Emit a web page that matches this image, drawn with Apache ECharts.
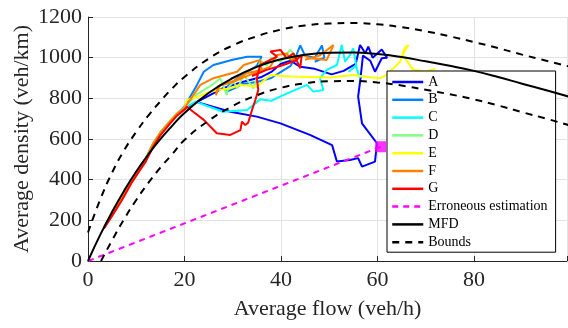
<!DOCTYPE html>
<html>
<head>
<meta charset="utf-8">
<script src="https://cdn.jsdelivr.net/npm/echarts@6.0.0/dist/echarts.min.js"></script>
<style>
  html, body { margin: 0; padding: 0; background: #fff; }
  #chart { width: 568px; height: 328px; }
</style>
</head>
<body>
<div id="chart"></div>
<script>
// trajectories: [flow, density]
var pathA = [[3.3,161],[5,228],[7,305],[9,390],[10.5,445],[12,500],[13.5,572],[15,628],[17,684],[18.5,722],[20.2,752],
  [24,800],[28,850],[32,880],[36,905],[38,930],[40,970],[42,985],[44,955],[47,945],[50.5,918],[53,935],[55.5,970],
  [56.4,1062],[57.5,1022],[58.1,1054],[59,1000],[60.9,1040],[62,1000],[60.9,997],[59.5,931],[58.5,985],[57,1010],
  [56.5,900],[56,808],[56.8,677],[59.9,579],[59.5,489],[56.8,464],[56,506],[54.3,497],[51.6,489],[50.6,570],
  [46,620],[39.9,677],[35,710],[29.5,734],[22.3,784]]
var pathB = [[3.3,165],[5,232],[7,310],[9,395],[10.5,450],[12,505],[13.5,578],[15,632],[17,688],[18.5,726],[20,760],
  [22.6,866],[24,931],[26,964],[30,990],[33,1005],[36,1005],[35,960],[33,930],[31,900],[29,860],[28.8,833],
  [30,845],[32,870],[35,880],[38,900],[40,930],[42,960],[43,1000],[44,1060],[45,1010],[47,1000],[48.5,1060],
  [49,1000],[47,980]]
var pathC = [[3.3,163],[5,230],[7,308],[9,392],[10.5,447],[12,502],[13.5,575],[15,630],[17,686],[18.5,724],[20,752],
  [22.3,784],[25,760],[28,734],[33,743],[35.7,795],[38,788],[40.5,816],[42.6,838],[45.4,866],[46.7,833],
  [48.8,841],[48.1,899],[49.5,940],[51.6,964],[52.6,1062],[53.3,980],[54.3,1013],[55,1046],[55.7,948],
  [56.4,899],[55.5,960],[54,930]]
var pathD = [[3.3,166],[5,234],[7,312],[9,396],[10.5,452],[12,507],[13.5,580],[15,634],[17,690],[18.5,728],[20,756],
  [22.6,820],[24,840],[26,870],[27.4,899],[28.8,816],[29,850],[30.2,882],[31,850],[32.3,915],[34.3,849],
  [35,900],[35.7,989],[37,960],[38,1000],[40,980],[41.9,1038],[43,1010]]
var pathE = [[3.3,162],[5,229],[7,306],[9,391],[10.5,446],[12,501],[13.5,574],[15,629],[17,685],[18.5,723],[20,750],
  [20.5,792],[23,810],[25,830],[27,841],[29.5,849],[31.6,866],[35,857],[37.8,915],[41.9,907],[46,905],
  [50.2,902],[55,915],[58,905],[60.6,899],[61.9,915],[64.7,980],[65.6,1045],[66.4,1062],[65.2,1015],
  [67.4,940],[70,932],[72,945]]
var pathF = [[3.3,164],[5,231],[7,309],[9,394],[10.5,449],[12,504],[13.5,577],[15,631],[17,687],[18.5,725],[20,752],
  [23.3,866],[26,899],[30.9,931],[32.3,964],[35.7,989],[36,940],[33,925],[30.2,885],[27.4,866],[26.5,815],
  [27,860],[30,880],[34.3,923],[37.8,956],[39.2,1013],[41.2,1021],[42,990],[44.7,1013],[46,997],[49.5,989],
  [50.9,1062],[48,1010],[45,990]]
var pathG = [[3.3,160],[5,222],[7,298],[9,382],[10.5,437],[12,490],[13.5,562],[15,618],[17,676],[18.5,716],[20.2,748],
  [20.5,759],[22,730],[24,694],[26.7,628],[29.5,620],[31.6,644],[31.9,685],[32.6,669],[33.2,680],[34,743],
  [34.7,792],[35.3,841],[35,899],[35.7,964],[37.8,989],[39.2,1005],[37.8,1030],[39.9,1038],[41.2,997],
  [42.6,1021],[44,948],[44.3,1013],[43,985],[40,960],[37,940],[34,910]]

var pathNames = ['A', 'B', 'C', 'D', 'E', 'F', 'G']
var paths = [pathA, pathB, pathC, pathD, pathE, pathF, pathG]
var pathColors = ['#0000ff', '#0080ff', '#00ffff', '#80ff80', '#ffff00', '#ff8000', '#ff0000']

var errorLine = [[0,0],[60.7,562]]
var errorPoint = [[60.7,562]]

var mfdFlow = [0,2.5,5,7.5,10,12.5,15,17.5,20,25,30,35,40,45,50,55,60,65,70,75,80,85,90,95,100]
var mfdDensity = [0,127,242,346,440,524,599,666,728,826,900,955,992,1014,1024,1025,1018,1003,982,960,935,905,872,840,806]
var upperDensity = [140,300,435,545,635,715,785,850,905,995,1060,1105,1138,1158,1168,1170,1164,1150,1130,1105,1077,1047,1015,985,955]
var lowerFlow = [2.7,5,7.5,10,12.5,15,17.5,20,25,30,35,40,45,50,55,60,65,70,75,80,85,90,95,100]
var lowerDensity = [0,102,206,300,384,459,526,595,690,762,815,852,874,884,885,878,863,842,820,795,765,732,700,666]

function zip(xs, ys) {
  var out = []
  for (var i = 0; i < xs.length; i++) {
    out.push([xs[i], ys[i]])
  }
  return out
}

var series = []
for (var i = 0; i < paths.length; i++) {
  series.push({
    name: pathNames[i],
    type: 'line',
    data: paths[i],
    showSymbol: false,
    symbol: 'none',
    lineStyle: { color: pathColors[i], width: 2 },
    itemStyle: { color: pathColors[i] },
    z: 2
  })
}
series.push({
  name: 'Erroneous estimation',
  type: 'line',
  data: errorLine,
  symbol: 'none',
  lineStyle: { color: '#ff00ff', width: 2, type: [6, 5] },
  itemStyle: { color: '#ff00ff' },
  z: 3
})
series.push({
  name: 'errPoint',
  type: 'scatter',
  data: errorPoint,
  symbol: 'rect',
  symbolSize: 11,
  itemStyle: { color: '#ff00ff' },
  z: 4
})
series.push({
  name: 'MFD',
  type: 'line',
  data: zip(mfdFlow, mfdDensity),
  symbol: 'none',
  smooth: true,
  lineStyle: { color: '#000', width: 2 },
  itemStyle: { color: '#000' },
  z: 5
})
series.push({
  name: 'Bounds',
  type: 'line',
  data: zip(mfdFlow, upperDensity),
  symbol: 'none',
  smooth: true,
  lineStyle: { color: '#000', width: 2, type: [7, 6] },
  itemStyle: { color: '#000' },
  z: 5
})
series.push({
  name: 'Bounds',
  type: 'line',
  data: zip(lowerFlow, lowerDensity),
  symbol: 'none',
  smooth: true,
  lineStyle: { color: '#000', width: 2, type: [7, 6] },
  itemStyle: { color: '#000' },
  z: 5
})

var serif = '"Liberation Serif", "DejaVu Serif", serif'
var myChart = echarts.init(document.getElementById('chart'))
var option = {
  animation: false,
  grid: { left: 88, top: 17, right: 1, bottom: 67, outerBoundsMode: 'none', containLabel: false },
  legend: {
    data: ['A', 'B', 'C', 'D', 'E', 'F', 'G', 'Erroneous estimation', 'MFD', 'Bounds'],
    orient: 'vertical',
    left: 387,
    top: 71,
    itemWidth: 31,
    itemHeight: 14,
    itemGap: 3.8,
    padding: [4, 8, 3, 4],
    backgroundColor: '#fff',
    borderColor: '#000',
    borderWidth: 1,
    itemStyle: { opacity: 0 },
    lineStyle: { width: 2.5 },
    textStyle: { fontFamily: serif, fontSize: 14, color: '#000' }
  },
  xAxis: {
    type: 'value',
    min: 0,
    max: 99.3,
    interval: 20,
    name: 'Average flow (veh/h)',
    nameLocation: 'middle',
    nameGap: 37,
    nameTextStyle: { fontFamily: serif, fontSize: 22, color: '#262626' },
    axisLine: { lineStyle: { color: '#262626', width: 1 } },
    axisTick: { inside: true, length: 5, lineStyle: { color: '#262626' } },
    axisLabel: {
      fontFamily: serif, fontSize: 22, color: '#262626', margin: 8,
      formatter: function (v) { return v % 20 === 0 ? String(v) : '' }
    },
    splitLine: { show: true, lineStyle: { color: '#e3e3e3', width: 1 } }
  },
  yAxis: {
    type: 'value',
    min: 0,
    max: 1200,
    interval: 200,
    name: 'Average density (veh/km)',
    nameLocation: 'middle',
    nameGap: 55,
    nameMoveOverlap: false,
    nameTextStyle: { fontFamily: serif, fontSize: 22, color: '#262626' },
    axisLine: { show: true, lineStyle: { color: '#262626', width: 1 } },
    axisTick: { show: true, inside: true, length: 5, lineStyle: { color: '#262626' } },
    axisLabel: {
      fontFamily: serif, fontSize: 22, color: '#262626', margin: 6,
      formatter: function (v) { return String(v) }
    },
    splitLine: { show: true, lineStyle: { color: '#e3e3e3', width: 1 } }
  },
  series: series
}
myChart.setOption(option)
</script>
</body>
</html>
